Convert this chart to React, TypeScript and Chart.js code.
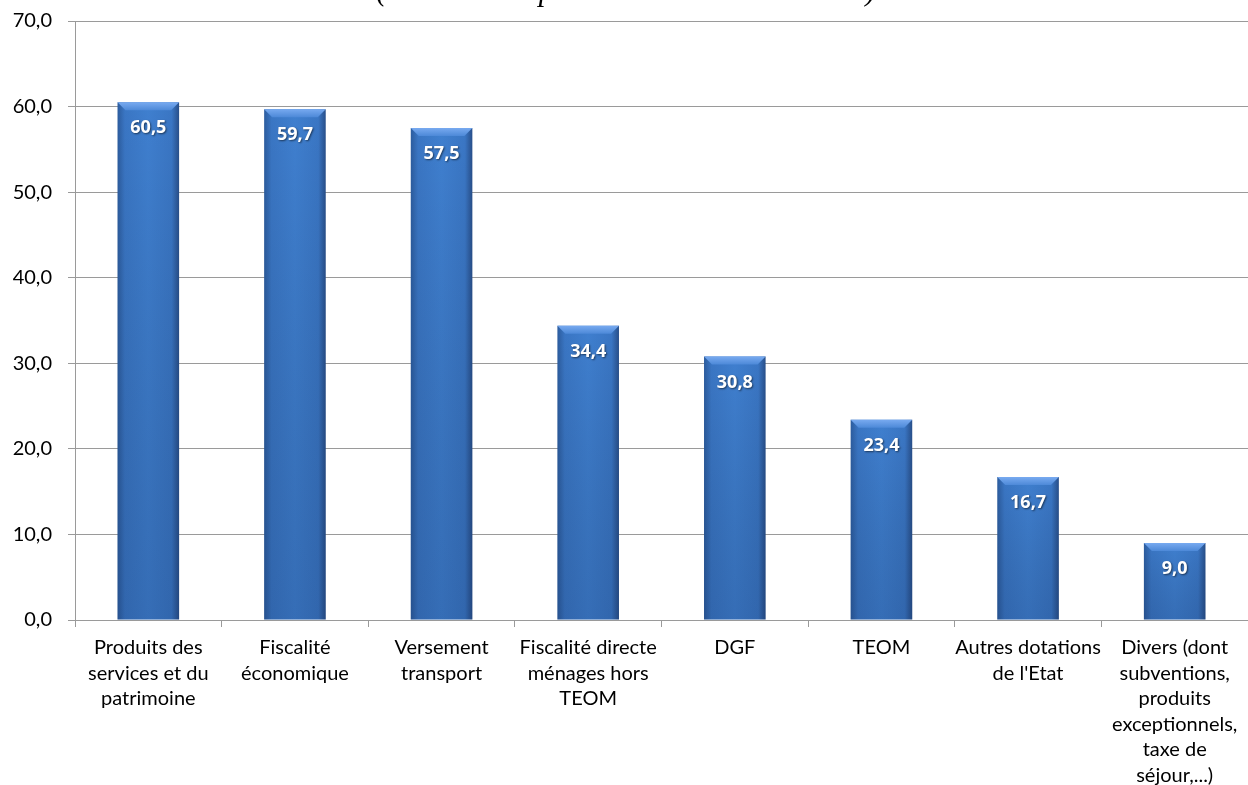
import React, { useEffect, useRef } from "react";
import { Chart, registerables } from "chart.js";

Chart.register(...registerables);

const titleText = "(Montants exprimés en millions d'euros)";
const categories: (string | string[])[] = [
  ["Produits des", "services et du", "patrimoine"],
  ["Fiscalité", "économique"],
  ["Versement", "transport"],
  ["Fiscalité directe", "ménages hors", "TEOM"],
  "DGF",
  "TEOM",
  ["Autres dotations", "de l'Etat"],
  ["Divers (dont", "subventions,", "produits", "exceptionnels,", "taxe de", "séjour,...)"],
];
const values = [60.5, 59.7, 57.5, 34.4, 30.8, 23.4, 16.7, 9.0];
const yTicks = [0, 10, 20, 30, 40, 50, 60, 70];

const fmt = (v: number) => v.toFixed(1).replace(".", ",");

export default function App() {
  const ref = useRef<HTMLCanvasElement | null>(null);
  useEffect(() => {
    if (!ref.current) return;
    const barStyle = {
      id: "barStyle",
      beforeDatasetsDraw(chart: any) {
        const meta = chart.getDatasetMeta(0);
        const ctx = chart.ctx;
        meta.data.forEach((el: any) => {
          const x0 = el.x - el.width / 2;
          const x1 = el.x + el.width / 2;
          const g = ctx.createLinearGradient(x0, 0, x1, 0);
          g.addColorStop(0, "#2c5c9e");
          g.addColorStop(0.12, "#3a76c4");
          g.addColorStop(0.5, "#3f7fcf");
          g.addColorStop(0.88, "#3a76c4");
          g.addColorStop(1, "#284f8a");
          el.options.backgroundColor = g;
        });
      },
      afterDatasetsDraw(chart: any) {
        const meta = chart.getDatasetMeta(0);
        const ctx = chart.ctx;
        meta.data.forEach((el: any, i: number) => {
          const x0 = el.x - el.width / 2;
          const x1 = el.x + el.width / 2;
          const top = el.y;
          const base = el.base;
          const b = 8;
          ctx.save();
          const vg = ctx.createLinearGradient(0, top, 0, base);
          vg.addColorStop(0, "rgba(0,0,0,0)");
          vg.addColorStop(1, "rgba(10,30,70,0.18)");
          ctx.fillStyle = vg;
          ctx.fillRect(x0, top, x1 - x0, base - top);
          const tg = ctx.createLinearGradient(0, top, 0, top + b);
          tg.addColorStop(0, "#78aaf0");
          tg.addColorStop(1, "#4d89d8");
          ctx.fillStyle = tg;
          ctx.beginPath();
          ctx.moveTo(x0, top);
          ctx.lineTo(x1, top);
          ctx.lineTo(x1 - b, top + b);
          ctx.lineTo(x0 + b, top + b);
          ctx.closePath();
          ctx.fill();
          ctx.font = "bold 18px 'Open Sans', Lato, sans-serif";
          ctx.textAlign = "center";
          ctx.textBaseline = "middle";
          ctx.shadowColor = "rgba(0,0,0,0.55)";
          ctx.shadowBlur = 2;
          ctx.shadowOffsetX = 1;
          ctx.shadowOffsetY = 1;
          ctx.fillStyle = "#ffffff";
          ctx.fillText(fmt(values[i]), el.x, top + 26);
          ctx.restore();
        });
      },
    };
    const titlePlugin = {
      id: "topTitle",
      afterDraw(chart: any) {
        const ctx = chart.ctx;
        ctx.save();
        ctx.font = "italic 31px 'Liberation Serif', 'Times New Roman', serif";
        ctx.fillStyle = "#000";
        ctx.textAlign = "center";
        ctx.textBaseline = "alphabetic";
        ctx.fillText(titleText, 626, 0);
        ctx.restore();
      },
    };
    const chart = new Chart(ref.current, {
      type: "bar",
      data: {
        labels: categories,
        datasets: [
          {
            data: values,
            backgroundColor: () => "#3b78c8",
            borderWidth: 0,
            categoryPercentage: 1,
            barPercentage: 0.42,
          },
        ],
      },
      options: {
        animation: false,
        responsive: false,
        devicePixelRatio: 1,
        layout: { padding: { top: 21, right: 0, left: 0, bottom: 0 } },
        plugins: {
          legend: { display: false },
          tooltip: { enabled: false },
          title: { display: false },
        },
        scales: {
          x: {
            grid: {
              offset: true,
              drawOnChartArea: false,
              drawTicks: true,
              tickLength: 7,
              color: "#9a9a9a",
            },
            border: { color: "#9a9a9a", width: 1 },
            ticks: {
              autoSkip: false,
              maxRotation: 0,
              minRotation: 0,
              padding: 8,
              color: "#000",
              font: { family: "Lato, 'Open Sans', sans-serif", size: 20, lineHeight: "25.5px" },
            },
            afterFit(scale: any) {
              scale.height = 165;
              scale.paddingLeft = 0;
              scale.paddingRight = 0;
            },
          },
          y: {
            min: 0,
            max: 70,
            afterBuildTicks(scale: any) {
              scale.ticks = yTicks.map((v) => ({ value: v }));
            },
            grid: { color: "#9a9a9a", tickLength: 7, lineWidth: 1 },
            border: { color: "#9a9a9a", width: 1 },
            ticks: {
              padding: 16,
              color: "#000",
              font: { family: "Lato, 'Open Sans', sans-serif", size: 20 },
              callback: (v: any) => fmt(Number(v)),
            },
            afterFit(scale: any) {
              scale.width = 75;
              scale.paddingTop = 0;
              scale.paddingBottom = 0;
            },
          },
        },
      },
      plugins: [barStyle, titlePlugin],
    });
    return () => chart.destroy();
  }, []);
  return (
    <div style={{ position: "fixed", left: 0, top: 0, width: 1248, height: 785, background: "#fff" }}>
      <canvas ref={ref} width={1248} height={785} style={{ width: 1248, height: 785, display: "block" }} />
    </div>
  );
}
